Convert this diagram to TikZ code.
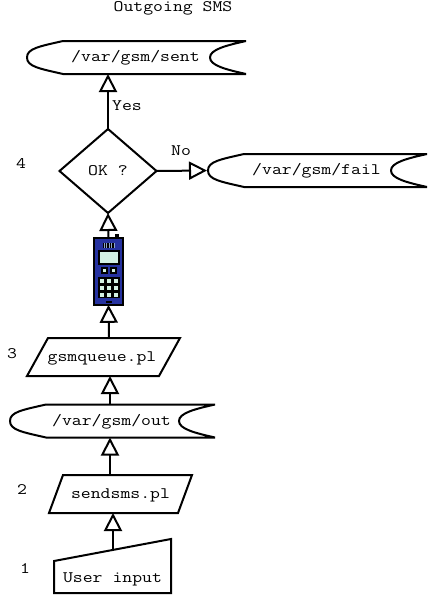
\documentclass[tikz,border=0pt]{standalone}
\usepackage{fontspec}
\setmonofont[FakeStretch=1.2]{Latin Modern Mono}
\usepackage{tikz}
\usetikzlibrary{arrows.meta, shapes.geometric}

\definecolor{phoneblue}{RGB}{38,50,160}
\definecolor{phonekey}{RGB}{212,242,228}

% #1 name, #2 left tip x, #3 centre y, #4 width, #5 text
\newcommand{\storagebox}[5]{
    \draw[outline, line join=bevel, fill=white, shift={(#2,#3)}] (36,-16.5) -- (#4,-16.5)
        .. controls (#4-20,-12) and (#4-36,-8) .. (#4-36,0)
        .. controls (#4-36,8) and (#4-20,12) .. (#4,16.5)
        -- (36,16.5)
        .. controls (12,11) and (0,9) .. (0,0)
        .. controls (0,-9) and (12,-11) .. (36,-16.5);
    \node[textbox, minimum width=#4*0.75pt, minimum height=24.75pt] (#1) at (#2+#4/2-1,#3) {#5};
}

\begin{document}
\begin{tikzpicture}[x=0.75pt, y=-0.75pt,
    outline/.style={line width=1.5pt},
    flow/.style={line width=1.5pt, -{Triangle[open, length=13.5pt, width=13.5pt, line width=1.5pt]}},
    textbox/.style={inner sep=0pt, outer sep=0pt, text height=8pt, text depth=2pt, font=\fontsize{12}{14}\ttfamily},
    plain/.style={textbox}]
    \useasboundingbox (0,0) rectangle (437,603);

    % Title and step numbers
    \node[plain] (title) at (173,8) {Outgoing SMS};
    \node[plain] (stepa) at (25,569) {1};
    \node[plain] (stepb) at (22,490) {2};
    \node[plain] (stepc) at (12,354) {3};
    \node[plain] (stepd) at (21,164) {4};

    % Manual input
    \draw[outline, fill=white] (54,561) -- (171,539) -- (171,593) -- (54,593) -- cycle;
    \coordinate (usertop) at (113,550);
    \node[textbox, minimum width=87.75pt, minimum height=22.5pt] (user) at (112.5,578) {User input};

    % Scripts
    \draw[outline, fill=white] (63,475) -- (192,475) -- (178,513) -- (49,513) -- cycle;
    \node[textbox, minimum width=96pt, minimum height=28.5pt] (sendsms) at (120.5,494) {sendsms.pl};
    \draw[outline, fill=white] (48,338) -- (180,338) -- (159,376) -- (27,376) -- cycle;
    \node[textbox, minimum width=99pt, minimum height=28.5pt] (gsmqueue) at (102,357) {gsmqueue.pl};

    % Storage
    \storagebox{out}{10}{421}{205}{/var/gsm/out}
    \storagebox{sent}{27}{57.5}{219}{/var/gsm/sent}
    \storagebox{fail}{208}{170.5}{219}{/var/gsm/fail}

    % Decision
    \node[diamond, draw, line width=1.5pt, inner sep=0pt, outer sep=0pt, minimum width=72.75pt,
        minimum height=63pt, shape aspect=1.155, text height=8pt, text depth=2pt,
        font=\fontsize{12}{14}\ttfamily, fill=white] (okq) at (108,171) {OK ?};

    % Phone
    \node[draw, line width=1.5pt, fill=phoneblue, inner sep=0pt, outer sep=0pt,
        minimum width=21.75pt, minimum height=50pt] (phone) at (108.5,271.5) {};
    \fill[black] (115,234) rectangle (119,239);
    \fill[black] (103,243) rectangle (115,248);
    \foreach \i in {104,106.5,...,114} \draw[phonekey!60!phoneblue, line width=0.3pt] (\i,243) -- (\i,248);
    \draw[fill=phonekey, line width=0.9pt] (99,251) rectangle (119,264);
    \foreach \i in {104,113} \draw[fill=phonekey, draw=black, line width=1.5pt] (\i-2.5,267.5) rectangle (\i+2.5,272.5);
    \fill[black] (98,277) rectangle (120,298);
    \foreach \i in {102,109,116}
        \foreach \j in {281,288,295}
            \fill[phonekey] (\i-2,\j-2) rectangle (\i+2,\j+2);
    \fill[black] (106,301) rectangle (112,303);

    % Flow
    \draw[flow] (usertop) -- (usertop |- sendsms.south);
    \draw[flow] (sendsms.north -| 110,0) -- (out.south -| 110,0);
    \draw[flow] (out.north -| 110,0) -- (gsmqueue.south -| 110,0);
    \draw[flow] (gsmqueue.north -| 109,0) -- (phone.south);
    \draw[flow] (phone.north) -- (okq.south);
    \draw[flow] (okq.north) -- (sent.south -| okq.north);
    \draw[flow] (okq.east) -- (fail.west);

    % Branch labels
    \node[plain] (yes) at (127,106) {Yes};
    \node[plain] (no) at (181,151) {No};
\end{tikzpicture}
\end{document}
